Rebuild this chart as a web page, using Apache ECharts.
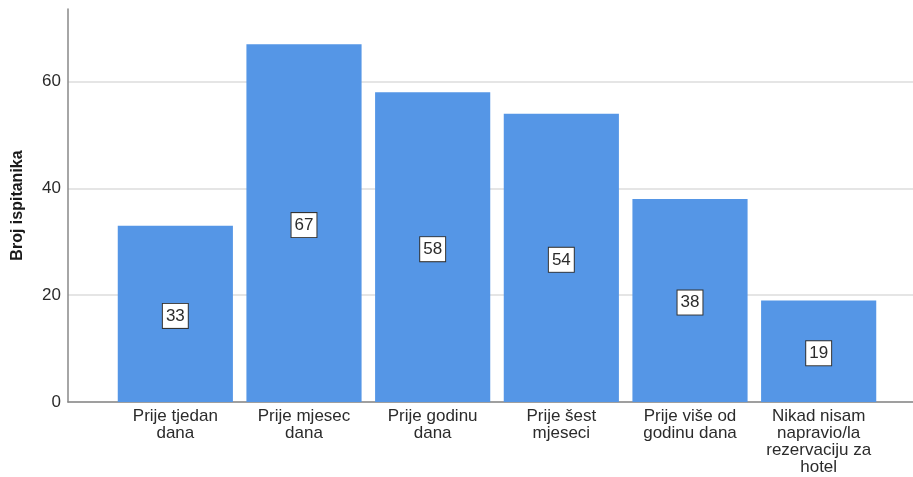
<!DOCTYPE html>
<html>
<head>
<meta charset="utf-8">
<script src="https://cdn.jsdelivr.net/npm/echarts@6/dist/echarts.min.js"></script>
<style>html,body{margin:0;padding:0;background:#fff;}#c{width:913px;height:477px;}</style>
</head>
<body>
<div id="c"></div>
<script>
const categories = [
  "Prije tjedan\ndana",
  "Prije mjesec\ndana",
  "Prije godinu\ndana",
  "Prije šest\nmjeseci",
  "Prije više od\ngodinu dana",
  "Nikad nisam\nnapravio/la\nrezervaciju za\nhotel"
];
const counts = [33, 67, 58, 54, 38, 19];
const yTicks = { min: 0, max: 73.6, interval: 20 };
const yTitle = "Broj ispitanika";

const font = "Liberation Sans, Arial, sans-serif";
const chart = echarts.init(document.getElementById('c'), null, { renderer: 'canvas' });
chart.setOption({
  animation: false,
  backgroundColor: '#fff',
  grid: [
    { left: 68, right: 0, top: 9, bottom: 75, containLabel: false, outerBoundsMode: 'none' },
    { left: 111, right: 30, top: 9, bottom: 75, containLabel: false, outerBoundsMode: 'none' }
  ],
  xAxis: [
    { gridIndex: 0, type: 'value', min: 0, max: 1,
      axisLine: { show: true, lineStyle: { color: '#888', width: 1.5 } },
      axisTick: { show: false }, axisLabel: { show: false }, splitLine: { show: false } },
    { gridIndex: 1, type: 'category', data: categories, boundaryGap: true,
      axisLine: { show: false }, axisTick: { show: false },
      axisLabel: { interval: 0, margin: 6, fontFamily: font, fontSize: 17, color: '#2b2b2b', lineHeight: 17 } }
  ],
  yAxis: [
    { gridIndex: 0, type: 'value', min: yTicks.min, max: yTicks.max, interval: yTicks.interval,
      name: yTitle, nameLocation: 'middle', nameGap: 42,
      nameTextStyle: { fontFamily: font, fontSize: 16, fontWeight: 'bold', color: '#1a1a1a' },
      axisLine: { show: true, lineStyle: { color: '#888', width: 1.5 } },
      axisTick: { show: false },
      axisLabel: { margin: 7, fontFamily: font, fontSize: 17, color: '#2b2b2b', showMaxLabel: false },
      splitLine: { show: true, showMaxLine: false, lineStyle: { color: '#dcdcdc', width: 1.5 } } },
    { gridIndex: 1, type: 'value', min: yTicks.min, max: yTicks.max, interval: yTicks.interval,
      show: false, splitLine: { show: false } }
  ],
  series: [{
    type: 'bar',
    xAxisIndex: 1, yAxisIndex: 1,
    data: counts,
    barCategoryGap: '10.5%',
    itemStyle: { color: '#5596e6' },
    label: {
      show: true, position: 'inside', offset: [0, 2],
      fontFamily: font, fontSize: 17, color: '#2b2b2b',
      backgroundColor: '#fff', borderColor: '#333', borderWidth: 1,
      padding: [4, 3, 3, 3]
    }
  }]
});
</script>
</body>
</html>
